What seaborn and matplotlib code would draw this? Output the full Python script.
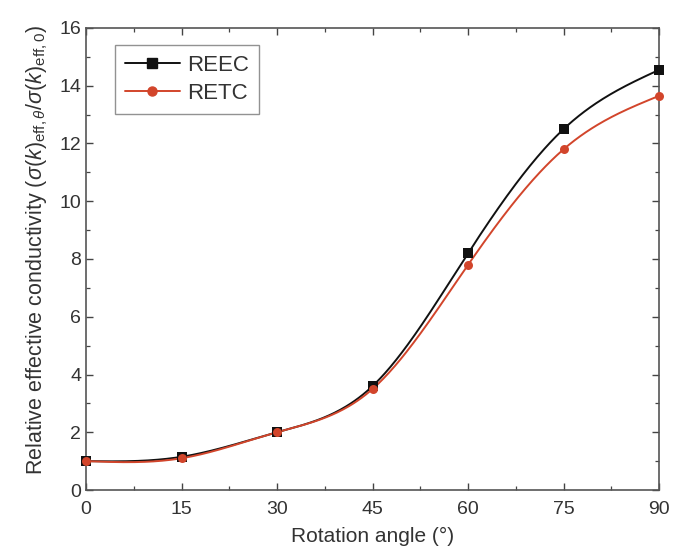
import numpy as np
import pandas as pd
import matplotlib
matplotlib.use("Agg")
import matplotlib.pyplot as plt
import seaborn as sns
from matplotlib.lines import Line2D
from matplotlib.ticker import MultipleLocator

angles = [0, 15, 30, 45, 60, 75, 90]
reec = [1.0, 1.15, 2.0, 3.6, 8.2, 12.5, 14.55]
retc = [1.0, 1.1, 2.0, 3.5, 7.8, 11.8, 13.65]
series_names = ["REEC", "RETC"]
colors = ["#111111", "#d2452b"]
markers = ["s", "o"]


def natural_spline(x, y, xs):
    x = np.asarray(x, float); y = np.asarray(y, float)
    n = len(x)
    h = np.diff(x)
    A = np.zeros((n, n)); b = np.zeros(n)
    A[0, 0] = A[-1, -1] = 1
    for i in range(1, n - 1):
        A[i, i - 1] = h[i - 1]
        A[i, i] = 2 * (h[i - 1] + h[i])
        A[i, i + 1] = h[i]
        b[i] = 3 * ((y[i + 1] - y[i]) / h[i] - (y[i] - y[i - 1]) / h[i - 1])
    c = np.linalg.solve(A, b)
    out = np.empty_like(xs)
    for k, xv in enumerate(xs):
        i = min(np.searchsorted(x, xv, side="right") - 1, n - 2)
        i = max(i, 0)
        dx = xv - x[i]
        bi = (y[i + 1] - y[i]) / h[i] - h[i] * (2 * c[i] + c[i + 1]) / 3
        di = (c[i + 1] - c[i]) / (3 * h[i])
        out[k] = y[i] + bi * dx + c[i] * dx ** 2 + di * dx ** 3
    return out


sns.set_style("ticks")
plt.rcParams["font.family"] = ["Liberation Sans", "DejaVu Sans"]
plt.rcParams["mathtext.fontset"] = "custom"
plt.rcParams["mathtext.rm"] = "Liberation Sans"
plt.rcParams["mathtext.it"] = "Liberation Sans:italic"

fig = plt.figure(figsize=(6.74, 5.59), dpi=100)
ax = fig.add_axes([0.1276, 0.1234, 0.8504, 0.8266])

xs = np.linspace(0, 90, 400)
rows = []
pts = []
for name, vals in zip(series_names, [reec, retc]):
    ys = natural_spline(angles, vals, xs)
    rows.append(pd.DataFrame({"x": xs, "y": ys, "s": name}))
    pts.append(pd.DataFrame({"x": angles, "y": vals, "s": name}))
curves = pd.concat(rows, ignore_index=True)
points = pd.concat(pts, ignore_index=True)

for name, col, mk in zip(series_names, colors, markers):
    sns.lineplot(data=curves[curves.s == name], x="x", y="y", color=col,
                 linewidth=1.4, ax=ax, legend=False)
    sns.scatterplot(data=points[points.s == name], x="x", y="y", color=col,
                    marker=mk, s=42, edgecolor=col, linewidth=0, ax=ax,
                    legend=False, zorder=5, clip_on=False)

ax.set_xlim(0, 90)
ax.set_ylim(0, 16)
ax.xaxis.set_major_locator(MultipleLocator(15))
ax.xaxis.set_minor_locator(MultipleLocator(7.5))
ax.yaxis.set_major_locator(MultipleLocator(2))
ax.yaxis.set_minor_locator(MultipleLocator(1))
ax.tick_params(which="both", direction="in", top=True, right=True,
               colors="#444444", labelcolor="#333333", labelsize=14)
ax.tick_params(which="major", length=5, width=1.0)
ax.tick_params(which="minor", length=3, width=0.9)
ax.tick_params(axis="x", pad=8)
for sp in ax.spines.values():
    sp.set_color("#555555")
    sp.set_linewidth(1.2)

ax.set_xlabel("Rotation angle (°)", fontsize=15, color="#333333", labelpad=6)
ax.set_ylabel(r"Relative effective conductivity ($\sigma(k)_{\mathrm{eff},\theta}/\sigma(k)_{\mathrm{eff},0}$)",
              fontsize=15.5, color="#333333", labelpad=5)
ax.yaxis.set_label_coords(-0.063, 0.52)

handles = [Line2D([0], [0], color=c, marker=m, markersize=6.5, linewidth=1.4)
           for c, m in zip(colors, markers)]
leg = ax.legend(handles, series_names, loc="upper left", bbox_to_anchor=(0.05, 0.963),
                borderaxespad=0, fontsize=16, frameon=True, fancybox=False,
                handlelength=2.5, borderpad=0.45, labelspacing=0.3, handletextpad=0.3)
leg.get_frame().set_edgecolor("#777777")
leg.get_frame().set_linewidth(1.0)
for t in leg.get_texts():
    t.set_color("#333333")

fig.savefig("out.png", dpi=100)
